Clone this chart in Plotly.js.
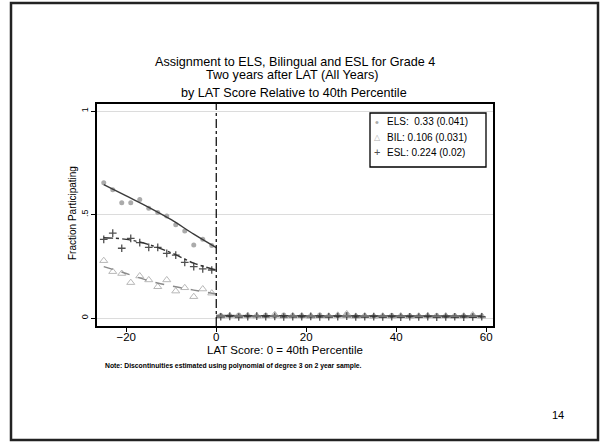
<!DOCTYPE html>
<html>
<head>
<meta charset="utf-8">
<script src="https://cdn.plot.ly/plotly-3.0.1.min.js"></script>
<style>html,body{margin:0;padding:0;background:#fff;}#chart{width:600px;height:442px;}</style>
</head>
<body>
<div id="chart"></div>
<script>
// ---- data ----
const binsLeft = [-25,-23,-21,-19,-17,-15,-13,-11,-9,-7,-5,-3,-1];
const elsLeft  = [0.654,0.62,0.557,0.557,0.573,0.53,0.51,0.493,0.45,0.42,0.353,0.38,0.35];
const bilLeft  = [0.277,0.224,0.215,0.171,0.203,0.184,0.151,0.184,0.13,0.146,0.103,0.14,0.12];
const eslLeft  = [0.38,0.41,0.337,0.385,0.364,0.341,0.341,0.312,0.304,0.269,0.248,0.237,0.232];

const binsRight = [1,3,5,7,9,11,13,15,17,19,21,23,25,27,29,31,33,35,37,39,41,43,45,47,49,51,53,55,57,59];
const elsRight = [0.012,0.010,0.014,0.009,0.011,0.013,0.010,0.015,0.012,0.009,0.011,0.014,0.010,0.012,0.018,0.009,0.011,0.008,0.010,0.012,0.009,0.011,0.010,0.008,0.012,0.009,0.011,0.010,0.013,0.009];
const bilRight = [0.008,0.011,0.007,0.012,0.009,0.010,0.016,0.008,0.009,0.011,0.007,0.010,0.009,0.013,0.020,0.008,0.010,0.007,0.009,0.008,0.010,0.007,0.009,0.011,0.008,0.010,0.007,0.009,0.014,0.008];
const eslRight = [0.006,0.008,0.005,0.007,0.009,0.006,0.008,0.005,0.007,0.006,0.008,0.005,0.006,0.007,0.009,0.005,0.006,0.007,0.005,0.006,0.004,0.006,0.005,0.007,0.004,0.005,0.006,0.004,0.005,0.006];

const fitXLeft  = [-25,-20,-15,-10,-5,0];
const elsFitL   = [0.645,0.59,0.535,0.475,0.405,0.34];
const eslFitL   = [0.388,0.38,0.355,0.315,0.265,0.232];
const bilFitL   = [0.248,0.215,0.18,0.155,0.135,0.116];
const fitXRight = [0,20,40,59];
const elsFitR   = [0.012,0.011,0.011,0.010];
const bilFitR   = [0.010,0.009,0.009,0.009];
const eslFitR   = [0.007,0.006,0.006,0.005];

const seriesNames  = ["ELS","BIL","ESL"];
const legendLabels = ["ELS:  0.33 (0.041)", "BIL: 0.106 (0.031)", "ESL: 0.224 (0.02)"];
const xTicks = [-20,0,20,40,60];
const yTicks = [0,0.5,1];
const yTickText = ["0",".5","1"];

// ---- geometry helpers (pixel -> paper) ----
const L=97, R=493, T=104, B=326;
const px = X => (X-L)/(R-L);
const py = Y => (B-Y)/(B-T);

const cEsl='#505050';
const mEls={symbol:'circle',size:5,color:'#ababab'};
const mBil={symbol:'triangle-up-open',size:7,color:'#b8b8b8',line:{width:1}};
const mEsl={symbol:'cross-thin',size:5.5,color:cEsl,line:{width:1.3,color:cEsl}};

const traces=[
  {x:binsLeft.concat(binsRight),y:elsLeft.concat(elsRight),mode:'markers',marker:mEls,name:seriesNames[0]},
  {x:binsLeft.concat(binsRight),y:bilLeft.concat(bilRight),mode:'markers',marker:mBil,name:seriesNames[1]},
  {x:binsLeft.concat(binsRight),y:eslLeft.concat(eslRight),mode:'markers',marker:mEsl,name:seriesNames[2]},
  {x:fitXLeft,y:elsFitL,mode:'lines',line:{color:'#3a3a3a',width:1.4,shape:'spline'}},
  {x:fitXLeft,y:eslFitL,mode:'lines',line:{color:'#333',width:1.4,dash:'dashdot',shape:'spline'}},
  {x:fitXLeft,y:bilFitL,mode:'lines',line:{color:'#8a8a8a',width:1.4,dash:'dash',shape:'spline'}},
  {x:fitXRight,y:elsFitR,mode:'lines',line:{color:'#3a3a3a',width:1.4}},
  {x:fitXRight,y:eslFitR,mode:'lines',line:{color:'#333',width:1.4,dash:'dashdot'}},
  {x:fitXRight,y:bilFitR,mode:'lines',line:{color:'#8a8a8a',width:1.4,dash:'dash'}}
];

const F='Liberation Sans, Arial, sans-serif';
function ann(text,X,Y,size,extra){
  return Object.assign({text:text,xref:'paper',yref:'paper',x:px(X),y:py(Y),xanchor:'center',yanchor:'middle',
    showarrow:false,font:{family:F,size:size,color:'#000'}},extra||{});
}
const legendGlyphs=[
  {t:'\u2022',c:'#aaaaaa',s:11},
  {t:'\u25B3',c:'#b0b0b0',s:8},
  {t:'+',c:cEsl,s:11}
];
const legendAnns=[];
legendLabels.forEach((lab,i)=>{
  const Y=122+15*i;
  legendAnns.push(ann(legendGlyphs[i].t,377,Y,legendGlyphs[i].s,{font:{family:F,size:legendGlyphs[i].s,color:legendGlyphs[i].c}}));
  legendAnns.push(ann(lab,385,Y,10,{xanchor:'left'}));
});

const layout={
  width:600,height:442,
  margin:{l:L,r:600-R,t:T,b:442-B,pad:0},
  paper_bgcolor:'#fff',plot_bgcolor:'#fff',
  font:{family:F,color:'#000',size:11},
  showlegend:false,
  xaxis:{range:[-26.5,61.5],tickvals:xTicks,ticktext:xTicks.map(v=>v<0?'\u2212'+(-v):String(v)),
         showgrid:false,zeroline:false,showline:true,mirror:true,linecolor:'#000',linewidth:2,
         ticks:'outside',ticklen:4,tickcolor:'#000',tickwidth:1,tickfont:{size:11.5},ticklabelstandoff:-5},
  yaxis:{range:[-0.0386,1.034],tickvals:yTicks,ticktext:yTickText,tickangle:-90,
         showgrid:true,gridcolor:'#dcdcdc',gridwidth:1,zeroline:false,showline:true,mirror:true,linecolor:'#000',linewidth:2,
         ticks:'outside',ticklen:4,tickcolor:'#000',tickwidth:1,tickfont:{size:9},ticklabelstandoff:-1},
  shapes:[
    {type:'line',xref:'x',yref:'paper',x0:0,x1:0,y0:0,y1:1,line:{color:'#000',width:1.2,dash:'dashdot'}},
    {type:'rect',xref:'paper',yref:'paper',x0:px(370),x1:px(486),y0:py(167),y1:py(113),line:{color:'#000',width:1.3},fillcolor:'#fff',layer:'above'},
    {type:'rect',xref:'paper',yref:'paper',x0:px(11),x1:px(598),y0:py(440),y1:py(3),line:{color:'#222',width:2.5}}
  ],
  annotations:[
    ann('Assignment to ELS, Bilingual and ESL for Grade 4',295,62,12.6),
    ann('Two years after LAT (All Years)',292,75,12.6),
    ann('by LAT Score Relative to 40th Percentile',294,93,12.6),
    ann('LAT Score: 0 = 40th Percentile',285,350,11.5),
    ann('Fraction Participating',72,213,10,{textangle:-90}),
    ann('<b>Note: Discontinuities estimated using polynomial of degree 3 on 2 year sample.</b>',103,366,6.8,{xanchor:'left'}),
    ann('14',558,415,11)
  ].concat(legendAnns)
};
Plotly.newPlot('chart',traces,layout,{displayModeBar:false,staticPlot:true});
</script>
</body>
</html>
